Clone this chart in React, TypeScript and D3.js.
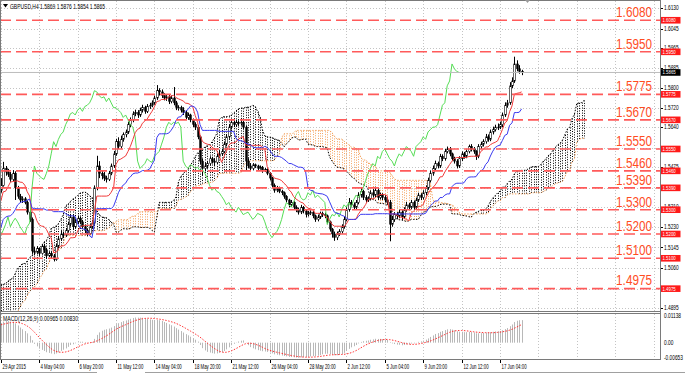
import React from "react";
import * as d3 from "d3";

// prices stored as 4-digit fraction: 5400 -> 1.5400, 4720 -> 1.4720
// bars before the first visible bar (10 Apr .. 29 Apr 08:00), needed for the indicators
const histClose = [
  4720, 4700, 4690, 4660, 4640, 4655, 4640, 4610, 4590, 4570, 4600, 4625,
  4640, 4660, 4700, 4730, 4720, 4735, 4760, 4790, 4810, 4840, 4830, 4860,
  4870, 4900, 4930, 4960, 4970, 4965, 4980, 4995, 4970, 4990, 5000, 4985,
  4970, 4940, 4910, 4900, 4920, 4930, 4950, 4975, 4990, 4960, 4940, 4950,
  4960, 4980, 5030, 5010, 5040, 5030, 5045, 5060, 5030, 5050, 5070, 5060,
  5080, 5110, 5150, 5170, 5190, 5180, 5190, 5210, 5225, 5200, 5220, 5240,
  5250, 5270, 5260, 5300, 5340, 5350, 5345, 5360, 5380,
];
const histHigh = [
  4745, 4728, 4712, 4698, 4670, 4662, 4660, 4648, 4618, 4600, 4608, 4632,
  4648, 4668, 4712, 4745, 4740, 4742, 4768, 4798, 4822, 4852, 4848, 4866,
  4878, 4908, 4942, 4968, 4985, 4978, 4988, 5005, 5000, 4998, 5012, 5006,
  4990, 4975, 4948, 4922, 4928, 4938, 4958, 4985, 5002, 4998, 4968, 4958,
  4968, 4990, 5042, 5038, 5048, 5048, 5052, 5070, 5068, 5058, 5082, 5078,
  5088, 5120, 5162, 5182, 5200, 5198, 5198, 5220, 5235, 5232, 5228, 5248,
  5258, 5278, 5285, 5310, 5352, 5360, 5358, 5370, 5392,
];
const histLow = [
  4710, 4692, 4680, 4648, 4625, 4632, 4630, 4600, 4575, 4565, 4566, 4595,
  4618, 4632, 4652, 4690, 4710, 4715, 4728, 4752, 4780, 4800, 4818, 4825,
  4852, 4862, 4892, 4920, 4950, 4955, 4958, 4975, 4962, 4962, 4982, 4978,
  4962, 4932, 4898, 4890, 4894, 4912, 4922, 4942, 4968, 4952, 4930, 4932,
  4942, 4952, 4972, 5000, 5002, 5022, 5022, 5038, 5020, 5022, 5042, 5050,
  5052, 5072, 5102, 5142, 5160, 5172, 5170, 5182, 5200, 5190, 5192, 5212,
  5232, 5240, 5250, 5255, 5292, 5330, 5335, 5338, 5352,
];
const firstOpen = 4730;

// visible H4 bars, 29 Apr 12:00 .. 18 Jun 16:00
const closes = [
  5400, 5470, 5455,
  5445, 5425, 5450, 5390, 5355, 5340, 5345, 5330, 5290, 5260, 5130, 5125,
  5140, 5120, 5150, 5135, 5110, 5120, 5110, 5095, 5150, 5180, 5200, 5195,
  5215, 5240, 5270, 5230, 5250, 5265, 5250, 5230, 5215, 5200, 5230, 5245,
  5390, 5480, 5450, 5440, 5430, 5425, 5450, 5480, 5530, 5580, 5560, 5590,
  5610, 5620, 5650, 5670, 5695, 5700, 5690, 5710, 5720, 5705, 5725, 5730,
  5740, 5760, 5790, 5785, 5770, 5760, 5765, 5745, 5760, 5740, 5720, 5720,
  5710, 5700, 5680, 5690, 5670, 5650, 5640, 5600, 5500, 5470, 5480, 5490,
  5510, 5500, 5495, 5520, 5530, 5540, 5570, 5600, 5640, 5660, 5650, 5660,
  5655, 5660, 5640, 5500, 5480, 5470, 5485, 5480, 5470, 5475, 5460, 5465,
  5450, 5430, 5400, 5380, 5390, 5375, 5370, 5355, 5340, 5320, 5330, 5310,
  5300, 5290, 5310, 5295, 5280, 5285, 5290, 5275, 5260, 5270, 5285, 5280,
  5275, 5250, 5220, 5200, 5185, 5200, 5210, 5230, 5260, 5300, 5330, 5320,
  5310, 5330, 5360, 5375, 5350, 5340, 5345, 5370, 5360, 5380, 5350, 5360,
  5350, 5340, 5330, 5240, 5260, 5280, 5275, 5290, 5270, 5300, 5320, 5310,
  5330, 5310, 5340, 5360, 5350, 5370, 5390, 5420, 5450, 5470, 5490, 5480,
  5520, 5510, 5540, 5550, 5530, 5510, 5500, 5480, 5510, 5530, 5520, 5540,
  5560, 5550, 5540, 5520, 5560, 5570, 5580, 5600, 5590, 5620, 5630, 5640,
  5640, 5650, 5690, 5730, 5740, 5810, 5830, 5900, 5880, 5869, 5865,
];
const highs = [
  5430, 5497, 5480,
  5468, 5455, 5463, 5458, 5398, 5365, 5355, 5352, 5338, 5298, 5268, 5148,
  5150, 5145, 5158, 5160, 5140, 5128, 5128, 5118, 5160, 5192, 5215, 5210,
  5225, 5250, 5282, 5278, 5262, 5275, 5272, 5258, 5238, 5222, 5240, 5258,
  5400, 5522, 5500, 5462, 5455, 5440, 5460, 5490, 5542, 5592, 5598, 5605,
  5618, 5630, 5662, 5680, 5705, 5712, 5710, 5720, 5732, 5728, 5735, 5740,
  5750, 5770, 5813, 5800, 5795, 5780, 5775, 5772, 5770, 5805, 5748, 5730,
  5728, 5722, 5708, 5700, 5695, 5675, 5660, 5648, 5605, 5510, 5492, 5500,
  5520, 5518, 5510, 5530, 5545, 5550, 5580, 5610, 5650, 5670, 5668, 5670,
  5668, 5670, 5665, 5645, 5512, 5492, 5492, 5490, 5485, 5482, 5480, 5472,
  5470, 5455, 5435, 5408, 5398, 5395, 5382, 5375, 5360, 5345, 5340, 5335,
  5318, 5308, 5320, 5315, 5300, 5295, 5298, 5295, 5280, 5280, 5292, 5292,
  5288, 5280, 5255, 5225, 5210, 5210, 5220, 5240, 5272, 5312, 5348, 5340,
  5330, 5340, 5372, 5390, 5382, 5360, 5355, 5380, 5385, 5395, 5388, 5370,
  5368, 5360, 5350, 5340, 5275, 5290, 5290, 5300, 5298, 5310, 5332, 5328,
  5340, 5338, 5350, 5370, 5368, 5380, 5400, 5432, 5462, 5482, 5502, 5498,
  5530, 5528, 5550, 5560, 5558, 5535, 5518, 5508, 5520, 5540, 5538, 5548,
  5568, 5570, 5558, 5545, 5570, 5580, 5590, 5612, 5610, 5630, 5642, 5650,
  5655, 5662, 5700, 5742, 5752, 5825, 5845, 5930, 5915, 5895, 5876,
];
const lows = [
  5370, 5395, 5440,
  5435, 5415, 5418, 5340, 5345, 5330, 5328, 5322, 5280, 5250, 5118, 5112,
  5118, 5110, 5115, 5125, 5100, 5105, 5100, 5087, 5090, 5142, 5172, 5185,
  5188, 5208, 5232, 5220, 5222, 5242, 5240, 5222, 5205, 5190, 5195, 5222,
  5238, 5380, 5430, 5425, 5418, 5412, 5418, 5442, 5472, 5522, 5550, 5552,
  5580, 5598, 5612, 5640, 5660, 5685, 5678, 5682, 5700, 5695, 5698, 5715,
  5722, 5732, 5752, 5770, 5760, 5750, 5748, 5735, 5738, 5730, 5710, 5708,
  5700, 5690, 5672, 5670, 5660, 5640, 5628, 5590, 5488, 5440, 5458, 5470,
  5482, 5490, 5480, 5488, 5512, 5522, 5532, 5562, 5592, 5630, 5640, 5642,
  5645, 5648, 5630, 5462, 5470, 5460, 5462, 5472, 5462, 5465, 5452, 5455,
  5442, 5420, 5392, 5370, 5372, 5368, 5360, 5345, 5330, 5310, 5312, 5300,
  5290, 5280, 5282, 5285, 5268, 5272, 5278, 5265, 5250, 5252, 5262, 5270,
  5265, 5240, 5210, 5185, 5172, 5175, 5192, 5202, 5222, 5252, 5292, 5310,
  5300, 5302, 5322, 5350, 5340, 5330, 5332, 5338, 5350, 5352, 5340, 5342,
  5340, 5330, 5320, 5170, 5230, 5250, 5262, 5265, 5258, 5262, 5292, 5300,
  5302, 5300, 5302, 5332, 5340, 5342, 5360, 5382, 5412, 5440, 5462, 5470,
  5472, 5500, 5502, 5532, 5520, 5500, 5490, 5470, 5472, 5500, 5510, 5512,
  5532, 5540, 5530, 5505, 5512, 5550, 5560, 5572, 5580, 5582, 5610, 5622,
  5628, 5632, 5640, 5682, 5720, 5732, 5800, 5822, 5870, 5860, 5854,
];

const levels = [6080, 5950, 5775, 5670, 5550, 5460, 5390, 5300, 5200, 5100, 4975];
// axis ticks that are not hidden behind the level boxes
const priceTicks = [6130, 6045, 5965, 5885, 5800, 5720, 5640, 5475, 5310, 5230, 5145, 5060, 4895];
const gridTicks = [6130, 6045, 5965, 5885, 5800, 5720, 5640, 5555, 5475, 5390, 5310, 5230, 5145, 5060, 4975, 4895];
const timeLabels = [
  "29 Apr 2015", "4 May 04:00", "6 May 20:00", "11 May 12:00", "14 May 04:00",
  "18 May 20:00", "21 May 12:00", "26 May 04:00", "28 May 20:00", "2 Jun 12:00",
  "5 Jun 04:00", "9 Jun 20:00", "12 Jun 12:00", "17 Jun 04:00",
];
const macdTickValues = [0.01138, 0, -0.00653];
const macdTickLabels = ["0.01138", "0.00", "-0.00653"];
const header = "GBPUSD,H4  1.5869 1.5876 1.5854 1.5865";
const macdTitle = "MACD(12,26,9) 0.00965 0.00830";
const lastPrice = 5865;

const FONT = "'Liberation Sans', Arial, sans-serif";
const P = (v: number) => 1 + v / 10000;
const fmt = (v: number) => P(v).toFixed(4);

// full series
const C = [...histClose, ...closes].map(P);
const Hh = [...histHigh, ...highs].map(P);
const Ll = [...histLow, ...lows].map(P);
const O = C.map((c, g) => (g === 0 ? P(firstOpen) : C[g - 1]));
const NH = histClose.length;
const NV = closes.length;

const mid = (g: number, n: number) => {
  const a = Math.max(0, g - n + 1);
  return ((d3.max(Hh.slice(a, g + 1)) as number) + (d3.min(Ll.slice(a, g + 1)) as number)) / 2;
};

// ichimoku 9/26/52
const tenkan = d3.range(NV).map((j) => mid(NH + j, 9));
const kijun = d3.range(NV).map((j) => mid(NH + j, 26));
const chikou = d3.range(NV - 26).map((j) => C[NH + j + 26]);
const spans = d3.range(NV + 26).map((j) => {
  const g = NH + j - 26;
  return { j, a: (mid(g, 9) + mid(g, 26)) / 2, b: mid(g, 52) };
});

// macd 12/26/9, sma signal
const ema = (n: number) => {
  const k = 2 / (n + 1);
  const out: number[] = [];
  C.forEach((c, g) => out.push(g === 0 ? c : out[g - 1] + k * (c - out[g - 1])));
  return out;
};
const e12 = ema(12);
const e26 = ema(26);
const macdMain = C.map((_, g) => e12[g] - e26[g]);
const macdSig = C.map((_, g) => d3.mean(macdMain.slice(Math.max(0, g - 8), g + 1)) as number);

const T = ({ x, y, sx = 1, children, ...rest }: any) => (
  <text transform={`translate(${x},${y}) scale(${sx},1)`} fontFamily={FONT} {...rest}>
    {children}
  </text>
);

export default function App() {
  const xs = d3.scaleLinear().domain([0, 275]).range([0.8, 660.8]);
  const ys = d3.scaleLinear().domain([1.4883, 1.6151]).range([311, 3]);
  const ym = d3.scaleLinear().domain([-0.00653, 0.01138]).range([358, 316]);
  const px = (j: number) => Math.round(xs(j));

  const line = d3.line<number>().x((_, j) => xs(j)).y((v) => ys(v));
  const spanA = d3.line<any>().x((d) => xs(d.j)).y((d) => ys(d.a));
  const spanB = d3.line<any>().x((d) => xs(d.j)).y((d) => ys(d.b));
  const sigLine = d3
    .line<number>()
    .x((_, j) => xs(j))
    .y((v) => ym(v));

  const vGrid = d3.range(0, 18).map((k) => Math.round(xs(k * 16)) + 0.5);

  return (
    <svg
      width={685}
      height={375}
      style={{ position: "absolute", left: 0, top: 0, background: "#fff" }}
    >
      <defs>
        <clipPath id="mainClip">
          <rect x={1} y={1} width={660} height={310} />
        </clipPath>
        <clipPath id="macdClip">
          <rect x={1} y={313.5} width={660} height={45.5} />
        </clipPath>
      </defs>

      {/* grid */}
      <g stroke="#c4c4c4" strokeWidth={1} strokeDasharray="1,2">
        {vGrid.map((x, k) => (
          <g key={k}>
            <line x1={x} x2={x} y1={1} y2={311} />
            <line x1={x} x2={x} y1={314} y2={359} />
          </g>
        ))}
        {gridTicks.map((v) => (
          <line key={v} x1={1} x2={660} y1={Math.round(ys(P(v))) + 0.5} y2={Math.round(ys(P(v))) + 0.5} />
        ))}
      </g>

      <g clipPath="url(#mainClip)">
        {/* kumo hatch */}
        {spans.map((d) => (
          <line
            key={d.j}
            x1={px(d.j) + 0.5}
            x2={px(d.j) + 0.5}
            y1={ys(d.a)}
            y2={ys(d.b)}
            stroke={d.a >= d.b ? "#000" : "#f4a460"}
            strokeWidth={1}
            strokeDasharray="1,1.5"
          />
        ))}
        <path d={spanA(spans) || ""} fill="none" stroke="#000" strokeWidth={1} strokeDasharray="1.5,1.5" />
        <path d={spanB(spans) || ""} fill="none" stroke="#f4a460" strokeWidth={1} strokeDasharray="1.5,1.5" />

        {/* candles */}
        {closes.map((_, j) => {
          const g = NH + j;
          const x = px(j);
          const up = C[g] >= O[g];
          const top = ys(Math.max(O[g], C[g]));
          const bot = ys(Math.min(O[g], C[g]));
          return (
            <g key={j}>
              <line x1={x + 0.5} x2={x + 0.5} y1={ys(Hh[g])} y2={ys(Ll[g])} stroke="#000" strokeWidth={1} />
              <rect
                x={x - 0.3}
                y={top}
                width={1.6}
                height={Math.max(0.8, bot - top)}
                fill={up ? "#fff" : "#000"}
                stroke="#000"
                strokeWidth={0.6}
              />
            </g>
          );
        })}

        {/* ichimoku lines */}
        <path d={line(chikou) || ""} fill="none" stroke="#55dd55" strokeWidth={1} />
        <path d={line(tenkan) || ""} fill="none" stroke="#f03a3a" strokeWidth={1} />
        <path d={line(kijun) || ""} fill="none" stroke="#3a3af0" strokeWidth={1} />

        {/* bid line */}
        <line x1={1} x2={660} y1={ys(P(lastPrice))} y2={ys(P(lastPrice))} stroke="#bdbdbd" strokeWidth={1} />

        {/* horizontal levels */}
        {levels.map((v) => (
          <line
            key={v}
            x1={0}
            x2={660}
            y1={ys(P(v))}
            y2={ys(P(v))}
            stroke="#ff5a5a"
            strokeWidth={1.6}
            strokeDasharray="11,5"
          />
        ))}
      </g>

      {levels.map((v) => (
        <T key={v} x={652} y={ys(P(v)) - 3.2} sx={0.84} fontSize={14} fill="#ff4d1f" textAnchor="end">
          {fmt(v)}
        </T>
      ))}

      {/* macd */}
      <g clipPath="url(#macdClip)">
        {closes.map((_, j) => (
          <line
            key={j}
            x1={px(j) + 0.5}
            x2={px(j) + 0.5}
            y1={ym(0)}
            y2={ym(macdMain[NH + j])}
            stroke="#b8b8b8"
            strokeWidth={1}
          />
        ))}
        <path
          d={sigLine(macdSig.slice(NH)) || ""}
          fill="none"
          stroke="#ff3030"
          strokeWidth={1}
          strokeDasharray="1.5,1.5"
        />
      </g>
      <T x={3} y={320.5} fontSize={7} textLength={75} lengthAdjust="spacingAndGlyphs" fill="#000">
        {macdTitle}
      </T>

      {/* frames */}
      <g fill="none" stroke="#7a7a7a" strokeWidth={1}>
        <line x1={0.5} x2={0.5} y1={0} y2={360} />
        <line x1={0} x2={661} y1={0.5} y2={0.5} />
        <line x1={0} x2={661} y1={311.5} y2={311.5} />
        <line x1={0} x2={661} y1={313.5} y2={313.5} />
        <line x1={0} x2={661} y1={359.5} y2={359.5} />
        <line x1={660.5} x2={660.5} y1={0} y2={360} />
      </g>
      <g stroke="#a0a0a0" strokeWidth={1}>
        <line x1={0} x2={97} y1={372.5} y2={372.5} />
        <line x1={145} x2={685} y1={372.5} y2={372.5} />
      </g>
      <polygon points="525,0 530,0 527.5,3" fill="#9a9a9a" />

      {/* header */}
      <polygon points="3,4 8,4 5.5,7.5" fill="#000" />
      <T x={10} y={8.5} fontSize={7} textLength={95} lengthAdjust="spacingAndGlyphs" fill="#000">
        {header}
      </T>

      {/* right price axis */}
      {gridTicks.map((v) => (
        <line key={v} x1={661} x2={663} y1={Math.round(ys(P(v))) + 0.5} y2={Math.round(ys(P(v))) + 0.5} stroke="#000" />
      ))}
      {priceTicks.map((v) => (
        <T key={v} x={664} y={ys(P(v)) + 2.2} sx={0.74} fontSize={6.5} fill="#000">
          {fmt(v)}
        </T>
      ))}
      {levels.map((v) => (
        <g key={v}>
          <rect x={661} y={ys(P(v)) - 3.3} width={19.5} height={6.6} fill="#ff1a1a" />
          <T x={662.5} y={ys(P(v)) + 2} sx={0.72} fontSize={6} fill="#fff">
            {fmt(v)}
          </T>
        </g>
      ))}
      <rect x={661} y={ys(P(lastPrice)) - 3.3} width={19.5} height={6.6} fill="#000" />
      <T x={662.5} y={ys(P(lastPrice)) + 2} sx={0.72} fontSize={6} fill="#fff">
        {fmt(lastPrice)}
      </T>

      {/* macd axis */}
      {macdTickValues.map((v, i) => (
        <T key={i} x={664} y={ym(v) + 2.2} sx={0.74} fontSize={6.5} fill="#000">
          {macdTickLabels[i]}
        </T>
      ))}

      {/* time axis */}
      {timeLabels.map((t, k) => (
        <g key={t}>
          <line x1={vGrid[k]} x2={vGrid[k]} y1={360} y2={363} stroke="#000" />
          <T x={vGrid[k] + 1} y={369} sx={0.62} fontSize={7} fill="#000">
            {t}
          </T>
        </g>
      ))}
    </svg>
  );
}
